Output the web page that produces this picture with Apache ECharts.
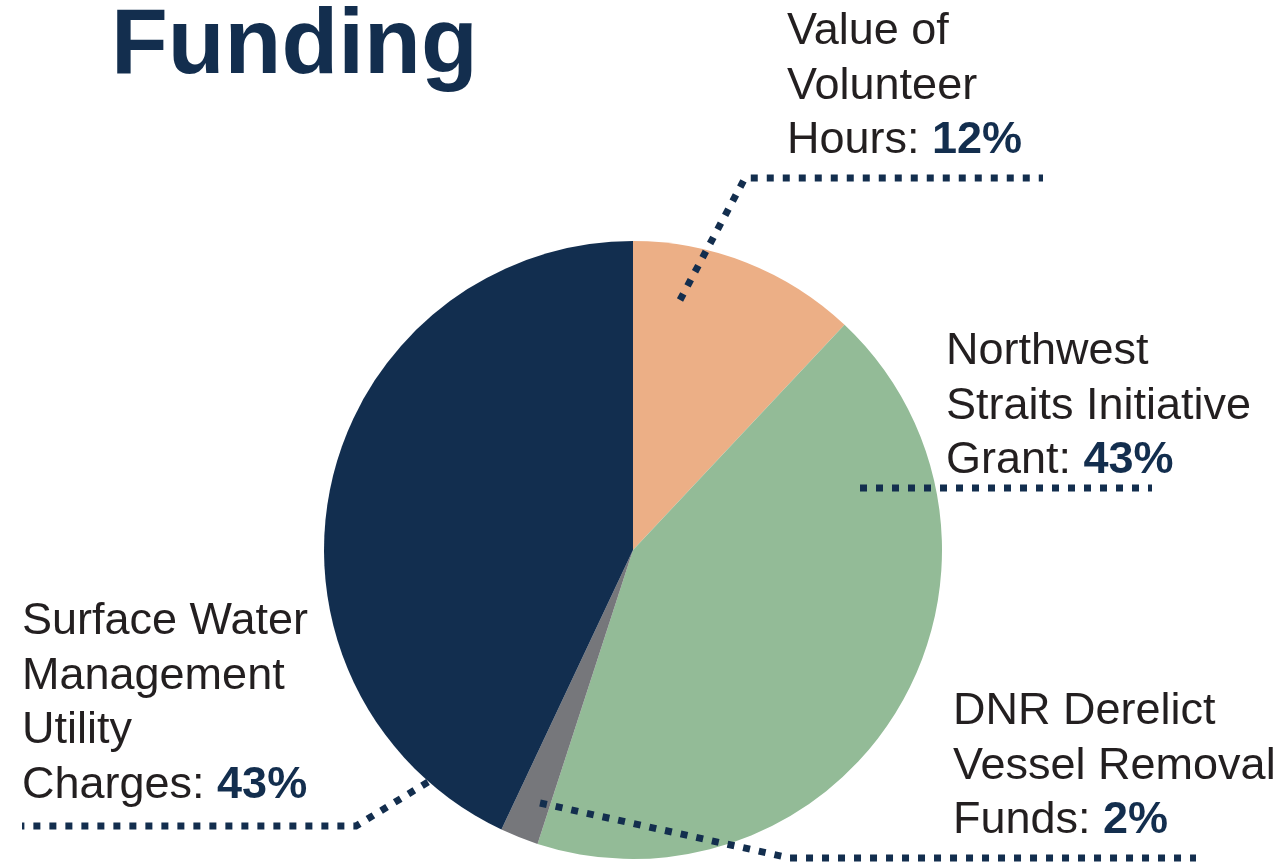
<!DOCTYPE html>
<html>
<head>
<meta charset="utf-8">
<style>
  html, body { margin: 0; padding: 0; background: #fff; }
  #chart { width: 1288px; height: 865px; }
</style>
<script src="https://cdn.jsdelivr.net/npm/echarts@6/dist/echarts.min.js"></script>
</head>
<body>
<div id="chart"></div>
<script>
// data
const sourceNames = [
  'Value of\nVolunteer\nHours',
  'Northwest\nStraits Initiative\nGrant',
  'DNR Derelict\nVessel Removal\nFunds',
  'Surface Water\nManagement\nUtility\nCharges'
]
const sharePct = [12, 43, 2, 43]
const sliceColors = ['#ECAF86', '#93BB97', '#76777B', '#122E4F']

// where each label sits and how its leader line runs
const labelSpots = [
  { x: 787, y: 4.5, line: [[680, 300], [745, 178], [1043, 178]] },
  { x: 946, y: 324.5, line: [[860, 488], [1000, 488], [1152, 488]] },
  { x: 953, y: 684.5, line: [[540, 803], [790, 858], [1196, 858]] },
  { x: 22, y: 594.5, line: [[428, 782], [356, 826], [22, 826]] }
]

const navy = '#132E4E'
const chart = echarts.init(document.getElementById('chart'))

const pieBase = {
  type: 'pie',
  center: [633, 550],
  radius: 309,
  startAngle: 90,
  clockwise: true,
  avoidLabelOverlap: false,
  emphasis: { disabled: true }
}

const option = {
  animation: false,
  title: {
    text: 'Funding',
    left: 111,
    top: 1,
    padding: 0,
    textStyle: {
      fontFamily: 'Liberation Sans',
      fontSize: 93,
      fontWeight: 'bold',
      color: navy
    }
  },
  series: [
    Object.assign({}, pieBase, {
      z: 2,
      itemStyle: { borderWidth: 0 },
      label: { show: false },
      labelLine: { show: false },
      data: sourceNames.map((name, i) => ({
        name: name,
        value: sharePct[i],
        itemStyle: { color: sliceColors[i] }
      }))
    }),
    // same slices again, invisible, only to carry labels and leader lines on top
    Object.assign({}, pieBase, {
      z: 5,
      silent: true,
      itemStyle: { color: 'rgba(0,0,0,0)', borderWidth: 0 },
      label: {
        show: true,
        position: 'outside',
        formatter: p => p.name + ': {pct|' + p.value + '%}',
        fontFamily: 'Liberation Sans',
        fontSize: 45,
        lineHeight: 54.5,
        color: '#231F20',
        rich: {
          pct: {
            fontFamily: 'Liberation Sans',
            fontSize: 45,
            lineHeight: 54.5,
            fontWeight: 'bold',
            color: navy
          }
        }
      },
      labelLine: {
        show: true,
        smooth: false,
        lineStyle: {
          color: navy,
          width: 7,
          type: [7, 9],
          cap: 'butt'
        }
      },
      labelLayout: params => {
        const spot = labelSpots[params.dataIndex]
        return {
          x: spot.x,
          y: spot.y,
          align: 'left',
          verticalAlign: 'top',
          labelLinePoints: spot.line
        }
      },
      data: sourceNames.map((name, i) => ({
        name: name,
        value: sharePct[i]
      }))
    })
  ]
}

chart.setOption(option)
</script>
</body>
</html>
